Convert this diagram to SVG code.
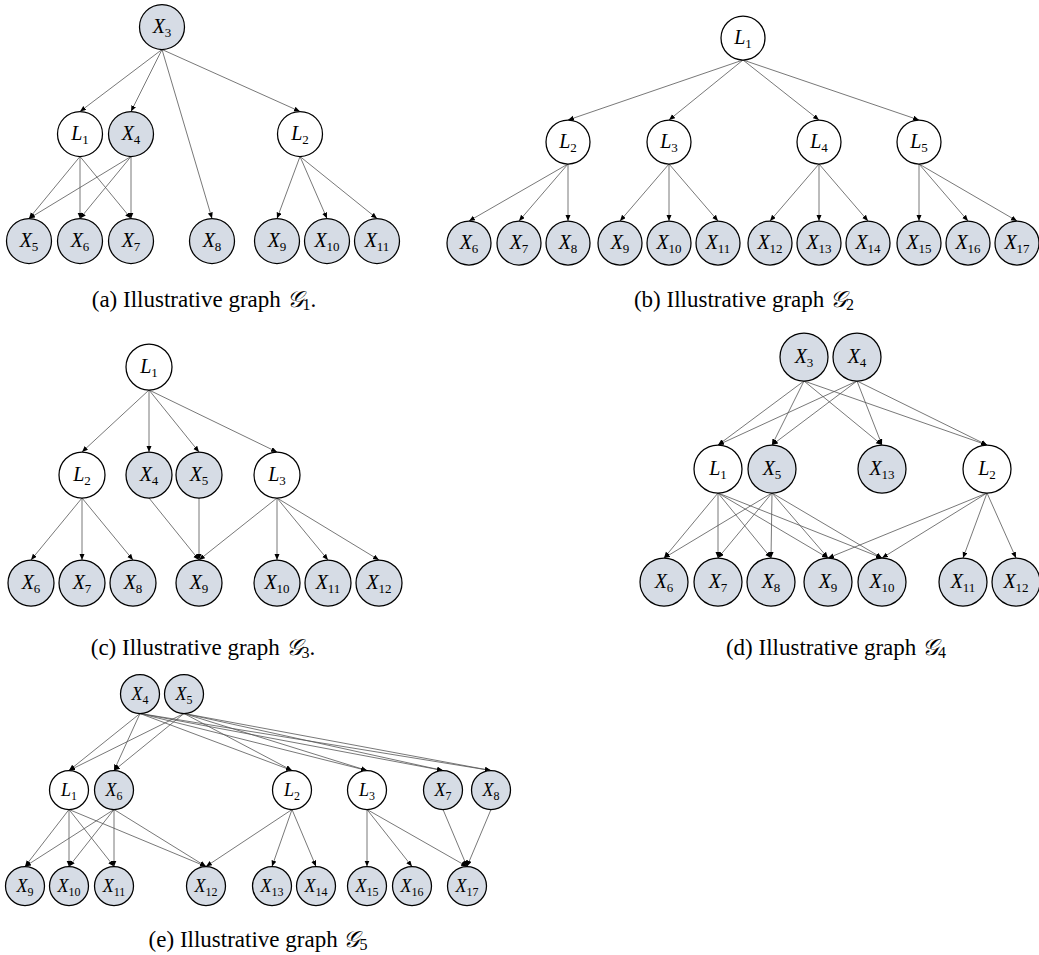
<svg xmlns="http://www.w3.org/2000/svg" width="1039" height="955" viewBox="0 0 1039 955">
<style>
.bg{fill:#fff}
.e{fill:none;stroke:#555;stroke-width:0.8;marker-end:url(#ah)}
.n{stroke:#000;stroke-width:1.25}
.o{fill:#D6DCE5}
.w{fill:#fff}
.lb{font-family:"Liberation Serif",serif;font-size:20px;text-anchor:middle;fill:#000}
.sm{font-size:18px}
.v{font-style:italic}
.s{font-size:13px}
.sm .s{font-size:12px}
.cap{font-family:"Liberation Serif",serif;font-size:23px;text-anchor:middle;fill:#000}
.g{font-family:"DejaVu Serif","DejaVu Sans","Noto Sans",serif;font-style:italic}
</style>
<defs>
<marker id="ah" markerWidth="7" markerHeight="6" refX="6" refY="2.5" orient="auto" markerUnits="userSpaceOnUse"><path d="M0,0 L6,2.5 L0,5 z" fill="#000"/></marker>
</defs>
<rect class="bg" x="0" y="0" width="1039" height="955"/>
<g id="connectors">
<g id="edges-a">
<path class="e" d="M162 49.5 L80 111.5"/>
<path class="e" d="M162 49.5 L131 111.5"/>
<path class="e" d="M162 49.5 L212 218.5"/>
<path class="e" d="M162 49.5 L300 111.5"/>
<path class="e" d="M80 156.5 L29 218.5"/>
<path class="e" d="M80 156.5 L80 218.5"/>
<path class="e" d="M80 156.5 L131 218.5"/>
<path class="e" d="M131 156.5 L29 218.5"/>
<path class="e" d="M131 156.5 L80 218.5"/>
<path class="e" d="M131 156.5 L131 218.5"/>
<path class="e" d="M300 156.5 L277 218.5"/>
<path class="e" d="M300 156.5 L327 218.5"/>
<path class="e" d="M300 156.5 L377 218.5"/>
</g>
<g id="edges-b">
<path class="e" d="M743 60 L568 120"/>
<path class="e" d="M743 60 L669 120"/>
<path class="e" d="M743 60 L819 120"/>
<path class="e" d="M743 60 L919 120"/>
<path class="e" d="M568 164 L469 221"/>
<path class="e" d="M568 164 L519 221"/>
<path class="e" d="M568 164 L568 221"/>
<path class="e" d="M669 164 L620 221"/>
<path class="e" d="M669 164 L669 221"/>
<path class="e" d="M669 164 L718 221"/>
<path class="e" d="M819 164 L770 221"/>
<path class="e" d="M819 164 L819 221"/>
<path class="e" d="M819 164 L868 221"/>
<path class="e" d="M919 164 L919 221"/>
<path class="e" d="M919 164 L968 221"/>
<path class="e" d="M919 164 L1017 221"/>
</g>
<g id="edges-c">
<path class="e" d="M149 390 L82 452"/>
<path class="e" d="M149 390 L149 452"/>
<path class="e" d="M149 390 L199 452"/>
<path class="e" d="M149 390 L277 452"/>
<path class="e" d="M82 498 L31 560"/>
<path class="e" d="M82 498 L82 560"/>
<path class="e" d="M82 498 L133 560"/>
<path class="e" d="M149 498 L199 560"/>
<path class="e" d="M199 498 L199 560"/>
<path class="e" d="M277 498 L199 560"/>
<path class="e" d="M277 498 L277 560"/>
<path class="e" d="M277 498 L328 560"/>
<path class="e" d="M277 498 L379 560"/>
</g>
<g id="edges-d">
<path class="e" d="M804 381 L718 445"/>
<path class="e" d="M804 381 L772 445"/>
<path class="e" d="M804 381 L882 445"/>
<path class="e" d="M804 381 L987 445"/>
<path class="e" d="M857 381 L718 445"/>
<path class="e" d="M857 381 L772 445"/>
<path class="e" d="M857 381 L882 445"/>
<path class="e" d="M857 381 L987 445"/>
<path class="e" d="M718 493 L664 558"/>
<path class="e" d="M718 493 L718 558"/>
<path class="e" d="M718 493 L771 558"/>
<path class="e" d="M718 493 L828 558"/>
<path class="e" d="M718 493 L882 558"/>
<path class="e" d="M772 493 L664 558"/>
<path class="e" d="M772 493 L718 558"/>
<path class="e" d="M772 493 L771 558"/>
<path class="e" d="M772 493 L828 558"/>
<path class="e" d="M772 493 L882 558"/>
<path class="e" d="M987 493 L828 558"/>
<path class="e" d="M987 493 L882 558"/>
<path class="e" d="M987 493 L963 558"/>
<path class="e" d="M987 493 L1016 558"/>
</g>
<g id="edges-e">
<path class="e" d="M140 713.5 L69 770.5"/>
<path class="e" d="M140 713.5 L114 770.5"/>
<path class="e" d="M140 713.5 L292 770.5"/>
<path class="e" d="M140 713.5 L367 770.5"/>
<path class="e" d="M140 713.5 L443 770.5"/>
<path class="e" d="M140 713.5 L491 770.5"/>
<path class="e" d="M184 713.5 L69 770.5"/>
<path class="e" d="M184 713.5 L114 770.5"/>
<path class="e" d="M184 713.5 L292 770.5"/>
<path class="e" d="M184 713.5 L367 770.5"/>
<path class="e" d="M184 713.5 L443 770.5"/>
<path class="e" d="M184 713.5 L491 770.5"/>
<path class="e" d="M69 809.5 L25 866.5"/>
<path class="e" d="M69 809.5 L69 866.5"/>
<path class="e" d="M69 809.5 L114 866.5"/>
<path class="e" d="M69 809.5 L206 866.5"/>
<path class="e" d="M114 809.5 L25 866.5"/>
<path class="e" d="M114 809.5 L69 866.5"/>
<path class="e" d="M114 809.5 L114 866.5"/>
<path class="e" d="M114 809.5 L206 866.5"/>
<path class="e" d="M292 809.5 L206 866.5"/>
<path class="e" d="M292 809.5 L272 866.5"/>
<path class="e" d="M292 809.5 L316 866.5"/>
<path class="e" d="M367 809.5 L367 866.5"/>
<path class="e" d="M367 809.5 L412 866.5"/>
<path class="e" d="M367 809.5 L467 866.5"/>
<path class="e" d="M443 809.5 L467 866.5"/>
<path class="e" d="M491 809.5 L467 866.5"/>
</g>
</g>

<!-- (a) -->
<g id="a-X3"><circle class="n o" cx="162" cy="27" r="22.5"/><text class="lb" x="162" y="33"><tspan class="v">X</tspan><tspan class="s" dy="4">3</tspan></text></g>
<g id="a-L1"><circle class="n w" cx="80" cy="134" r="22.5"/><text class="lb" x="80" y="140"><tspan class="v">L</tspan><tspan class="s" dy="4">1</tspan></text></g>
<g id="a-X4"><circle class="n o" cx="131" cy="134" r="22.5"/><text class="lb" x="131" y="140"><tspan class="v">X</tspan><tspan class="s" dy="4">4</tspan></text></g>
<g id="a-L2"><circle class="n w" cx="300" cy="134" r="22.5"/><text class="lb" x="300" y="140"><tspan class="v">L</tspan><tspan class="s" dy="4">2</tspan></text></g>
<g id="a-X5"><circle class="n o" cx="29" cy="241" r="22.5"/><text class="lb" x="29" y="247"><tspan class="v">X</tspan><tspan class="s" dy="4">5</tspan></text></g>
<g id="a-X6"><circle class="n o" cx="80" cy="241" r="22.5"/><text class="lb" x="80" y="247"><tspan class="v">X</tspan><tspan class="s" dy="4">6</tspan></text></g>
<g id="a-X7"><circle class="n o" cx="131" cy="241" r="22.5"/><text class="lb" x="131" y="247"><tspan class="v">X</tspan><tspan class="s" dy="4">7</tspan></text></g>
<g id="a-X8"><circle class="n o" cx="212" cy="241" r="22.5"/><text class="lb" x="212" y="247"><tspan class="v">X</tspan><tspan class="s" dy="4">8</tspan></text></g>
<g id="a-X9"><circle class="n o" cx="277" cy="241" r="22.5"/><text class="lb" x="277" y="247"><tspan class="v">X</tspan><tspan class="s" dy="4">9</tspan></text></g>
<g id="a-X10"><circle class="n o" cx="327" cy="241" r="22.5"/><text class="lb" x="327" y="247"><tspan class="v">X</tspan><tspan class="s" dy="4">10</tspan></text></g>
<g id="a-X11"><circle class="n o" cx="377" cy="241" r="22.5"/><text class="lb" x="377" y="247"><tspan class="v">X</tspan><tspan class="s" dy="4">11</tspan></text></g>
<text id="cap-a" class="cap" x="204" y="307">(a) Illustrative graph <tspan class="g">𝒢</tspan><tspan font-size="16" dy="3">1</tspan><tspan dy="-3">.</tspan></text>

<!-- (b) -->
<g id="b-L1"><circle class="n w" cx="743" cy="38" r="22"/><text class="lb" x="743" y="44"><tspan class="v">L</tspan><tspan class="s" dy="4">1</tspan></text></g>
<g id="b-L2"><circle class="n w" cx="568" cy="142" r="22"/><text class="lb" x="568" y="148"><tspan class="v">L</tspan><tspan class="s" dy="4">2</tspan></text></g>
<g id="b-L3"><circle class="n w" cx="669" cy="142" r="22"/><text class="lb" x="669" y="148"><tspan class="v">L</tspan><tspan class="s" dy="4">3</tspan></text></g>
<g id="b-L4"><circle class="n w" cx="819" cy="142" r="22"/><text class="lb" x="819" y="148"><tspan class="v">L</tspan><tspan class="s" dy="4">4</tspan></text></g>
<g id="b-L5"><circle class="n w" cx="919" cy="142" r="22"/><text class="lb" x="919" y="148"><tspan class="v">L</tspan><tspan class="s" dy="4">5</tspan></text></g>
<g id="b-X6"><circle class="n o" cx="469" cy="243" r="22"/><text class="lb" x="469" y="249"><tspan class="v">X</tspan><tspan class="s" dy="4">6</tspan></text></g>
<g id="b-X7"><circle class="n o" cx="519" cy="243" r="22"/><text class="lb" x="519" y="249"><tspan class="v">X</tspan><tspan class="s" dy="4">7</tspan></text></g>
<g id="b-X8"><circle class="n o" cx="568" cy="243" r="22"/><text class="lb" x="568" y="249"><tspan class="v">X</tspan><tspan class="s" dy="4">8</tspan></text></g>
<g id="b-X9"><circle class="n o" cx="620" cy="243" r="22"/><text class="lb" x="620" y="249"><tspan class="v">X</tspan><tspan class="s" dy="4">9</tspan></text></g>
<g id="b-X10"><circle class="n o" cx="669" cy="243" r="22"/><text class="lb" x="669" y="249"><tspan class="v">X</tspan><tspan class="s" dy="4">10</tspan></text></g>
<g id="b-X11"><circle class="n o" cx="718" cy="243" r="22"/><text class="lb" x="718" y="249"><tspan class="v">X</tspan><tspan class="s" dy="4">11</tspan></text></g>
<g id="b-X12"><circle class="n o" cx="770" cy="243" r="22"/><text class="lb" x="770" y="249"><tspan class="v">X</tspan><tspan class="s" dy="4">12</tspan></text></g>
<g id="b-X13"><circle class="n o" cx="819" cy="243" r="22"/><text class="lb" x="819" y="249"><tspan class="v">X</tspan><tspan class="s" dy="4">13</tspan></text></g>
<g id="b-X14"><circle class="n o" cx="868" cy="243" r="22"/><text class="lb" x="868" y="249"><tspan class="v">X</tspan><tspan class="s" dy="4">14</tspan></text></g>
<g id="b-X15"><circle class="n o" cx="919" cy="243" r="22"/><text class="lb" x="919" y="249"><tspan class="v">X</tspan><tspan class="s" dy="4">15</tspan></text></g>
<g id="b-X16"><circle class="n o" cx="968" cy="243" r="22"/><text class="lb" x="968" y="249"><tspan class="v">X</tspan><tspan class="s" dy="4">16</tspan></text></g>
<g id="b-X17"><circle class="n o" cx="1017" cy="243" r="22"/><text class="lb" x="1017" y="249"><tspan class="v">X</tspan><tspan class="s" dy="4">17</tspan></text></g>
<text id="cap-b" class="cap" x="744" y="307">(b) Illustrative graph <tspan class="g">𝒢</tspan><tspan font-size="16" dy="3">2</tspan></text>

<!-- (c) -->
<g id="c-L1"><circle class="n w" cx="149" cy="367" r="23"/><text class="lb" x="149" y="373"><tspan class="v">L</tspan><tspan class="s" dy="4">1</tspan></text></g>
<g id="c-L2"><circle class="n w" cx="82" cy="475" r="23"/><text class="lb" x="82" y="481"><tspan class="v">L</tspan><tspan class="s" dy="4">2</tspan></text></g>
<g id="c-X4"><circle class="n o" cx="149" cy="475" r="23"/><text class="lb" x="149" y="481"><tspan class="v">X</tspan><tspan class="s" dy="4">4</tspan></text></g>
<g id="c-X5"><circle class="n o" cx="199" cy="475" r="23"/><text class="lb" x="199" y="481"><tspan class="v">X</tspan><tspan class="s" dy="4">5</tspan></text></g>
<g id="c-L3"><circle class="n w" cx="277" cy="475" r="23"/><text class="lb" x="277" y="481"><tspan class="v">L</tspan><tspan class="s" dy="4">3</tspan></text></g>
<g id="c-X6"><circle class="n o" cx="31" cy="583" r="23"/><text class="lb" x="31" y="589"><tspan class="v">X</tspan><tspan class="s" dy="4">6</tspan></text></g>
<g id="c-X7"><circle class="n o" cx="82" cy="583" r="23"/><text class="lb" x="82" y="589"><tspan class="v">X</tspan><tspan class="s" dy="4">7</tspan></text></g>
<g id="c-X8"><circle class="n o" cx="133" cy="583" r="23"/><text class="lb" x="133" y="589"><tspan class="v">X</tspan><tspan class="s" dy="4">8</tspan></text></g>
<g id="c-X9"><circle class="n o" cx="199" cy="583" r="23"/><text class="lb" x="199" y="589"><tspan class="v">X</tspan><tspan class="s" dy="4">9</tspan></text></g>
<g id="c-X10"><circle class="n o" cx="277" cy="583" r="23"/><text class="lb" x="277" y="589"><tspan class="v">X</tspan><tspan class="s" dy="4">10</tspan></text></g>
<g id="c-X11"><circle class="n o" cx="328" cy="583" r="23"/><text class="lb" x="328" y="589"><tspan class="v">X</tspan><tspan class="s" dy="4">11</tspan></text></g>
<g id="c-X12"><circle class="n o" cx="379" cy="583" r="23"/><text class="lb" x="379" y="589"><tspan class="v">X</tspan><tspan class="s" dy="4">12</tspan></text></g>
<text id="cap-c" class="cap" x="203" y="655">(c) Illustrative graph <tspan class="g">𝒢</tspan><tspan font-size="16" dy="3">3</tspan><tspan dy="-3">.</tspan></text>

<!-- (d) -->
<g id="d-X3"><circle class="n o" cx="804" cy="357" r="24"/><text class="lb" x="804" y="363"><tspan class="v">X</tspan><tspan class="s" dy="4">3</tspan></text></g>
<g id="d-X4"><circle class="n o" cx="857" cy="357" r="24"/><text class="lb" x="857" y="363"><tspan class="v">X</tspan><tspan class="s" dy="4">4</tspan></text></g>
<g id="d-L1"><circle class="n w" cx="718" cy="469" r="24"/><text class="lb" x="718" y="475"><tspan class="v">L</tspan><tspan class="s" dy="4">1</tspan></text></g>
<g id="d-X5"><circle class="n o" cx="772" cy="469" r="24"/><text class="lb" x="772" y="475"><tspan class="v">X</tspan><tspan class="s" dy="4">5</tspan></text></g>
<g id="d-X13"><circle class="n o" cx="882" cy="469" r="24"/><text class="lb" x="882" y="475"><tspan class="v">X</tspan><tspan class="s" dy="4">13</tspan></text></g>
<g id="d-L2"><circle class="n w" cx="987" cy="469" r="24"/><text class="lb" x="987" y="475"><tspan class="v">L</tspan><tspan class="s" dy="4">2</tspan></text></g>
<g id="d-X6"><circle class="n o" cx="664" cy="582" r="24"/><text class="lb" x="664" y="588"><tspan class="v">X</tspan><tspan class="s" dy="4">6</tspan></text></g>
<g id="d-X7"><circle class="n o" cx="718" cy="582" r="24"/><text class="lb" x="718" y="588"><tspan class="v">X</tspan><tspan class="s" dy="4">7</tspan></text></g>
<g id="d-X8"><circle class="n o" cx="771" cy="582" r="24"/><text class="lb" x="771" y="588"><tspan class="v">X</tspan><tspan class="s" dy="4">8</tspan></text></g>
<g id="d-X9"><circle class="n o" cx="828" cy="582" r="24"/><text class="lb" x="828" y="588"><tspan class="v">X</tspan><tspan class="s" dy="4">9</tspan></text></g>
<g id="d-X10"><circle class="n o" cx="882" cy="582" r="24"/><text class="lb" x="882" y="588"><tspan class="v">X</tspan><tspan class="s" dy="4">10</tspan></text></g>
<g id="d-X11"><circle class="n o" cx="963" cy="582" r="24"/><text class="lb" x="963" y="588"><tspan class="v">X</tspan><tspan class="s" dy="4">11</tspan></text></g>
<g id="d-X12"><circle class="n o" cx="1016" cy="582" r="24"/><text class="lb" x="1016" y="588"><tspan class="v">X</tspan><tspan class="s" dy="4">12</tspan></text></g>
<text id="cap-d" class="cap" x="836" y="655">(d) Illustrative graph <tspan class="g">𝒢</tspan><tspan font-size="16" dy="3">4</tspan></text>

<!-- (e) -->
<g id="e-X4"><circle class="n o" cx="140" cy="694" r="19.5"/><text class="lb sm" x="140" y="700"><tspan class="v">X</tspan><tspan class="s" dy="4">4</tspan></text></g>
<g id="e-X5"><circle class="n o" cx="184" cy="694" r="19.5"/><text class="lb sm" x="184" y="700"><tspan class="v">X</tspan><tspan class="s" dy="4">5</tspan></text></g>
<g id="e-L1"><circle class="n w" cx="69" cy="790" r="19.5"/><text class="lb sm" x="69" y="796"><tspan class="v">L</tspan><tspan class="s" dy="4">1</tspan></text></g>
<g id="e-X6"><circle class="n o" cx="114" cy="790" r="19.5"/><text class="lb sm" x="114" y="796"><tspan class="v">X</tspan><tspan class="s" dy="4">6</tspan></text></g>
<g id="e-L2"><circle class="n w" cx="292" cy="790" r="19.5"/><text class="lb sm" x="292" y="796"><tspan class="v">L</tspan><tspan class="s" dy="4">2</tspan></text></g>
<g id="e-L3"><circle class="n w" cx="367" cy="790" r="19.5"/><text class="lb sm" x="367" y="796"><tspan class="v">L</tspan><tspan class="s" dy="4">3</tspan></text></g>
<g id="e-X7"><circle class="n o" cx="443" cy="790" r="19.5"/><text class="lb sm" x="443" y="796"><tspan class="v">X</tspan><tspan class="s" dy="4">7</tspan></text></g>
<g id="e-X8"><circle class="n o" cx="491" cy="790" r="19.5"/><text class="lb sm" x="491" y="796"><tspan class="v">X</tspan><tspan class="s" dy="4">8</tspan></text></g>
<g id="e-X9"><circle class="n o" cx="25" cy="886" r="19.5"/><text class="lb sm" x="25" y="892"><tspan class="v">X</tspan><tspan class="s" dy="4">9</tspan></text></g>
<g id="e-X10"><circle class="n o" cx="69" cy="886" r="19.5"/><text class="lb sm" x="69" y="892"><tspan class="v">X</tspan><tspan class="s" dy="4">10</tspan></text></g>
<g id="e-X11"><circle class="n o" cx="114" cy="886" r="19.5"/><text class="lb sm" x="114" y="892"><tspan class="v">X</tspan><tspan class="s" dy="4">11</tspan></text></g>
<g id="e-X12"><circle class="n o" cx="206" cy="886" r="19.5"/><text class="lb sm" x="206" y="892"><tspan class="v">X</tspan><tspan class="s" dy="4">12</tspan></text></g>
<g id="e-X13"><circle class="n o" cx="272" cy="886" r="19.5"/><text class="lb sm" x="272" y="892"><tspan class="v">X</tspan><tspan class="s" dy="4">13</tspan></text></g>
<g id="e-X14"><circle class="n o" cx="316" cy="886" r="19.5"/><text class="lb sm" x="316" y="892"><tspan class="v">X</tspan><tspan class="s" dy="4">14</tspan></text></g>
<g id="e-X15"><circle class="n o" cx="367" cy="886" r="19.5"/><text class="lb sm" x="367" y="892"><tspan class="v">X</tspan><tspan class="s" dy="4">15</tspan></text></g>
<g id="e-X16"><circle class="n o" cx="412" cy="886" r="19.5"/><text class="lb sm" x="412" y="892"><tspan class="v">X</tspan><tspan class="s" dy="4">16</tspan></text></g>
<g id="e-X17"><circle class="n o" cx="467" cy="886" r="19.5"/><text class="lb sm" x="467" y="892"><tspan class="v">X</tspan><tspan class="s" dy="4">17</tspan></text></g>
<text id="cap-e" class="cap" x="258" y="947">(e) Illustrative graph <tspan class="g">𝒢</tspan><tspan font-size="16" dy="3">5</tspan></text>
</svg>
